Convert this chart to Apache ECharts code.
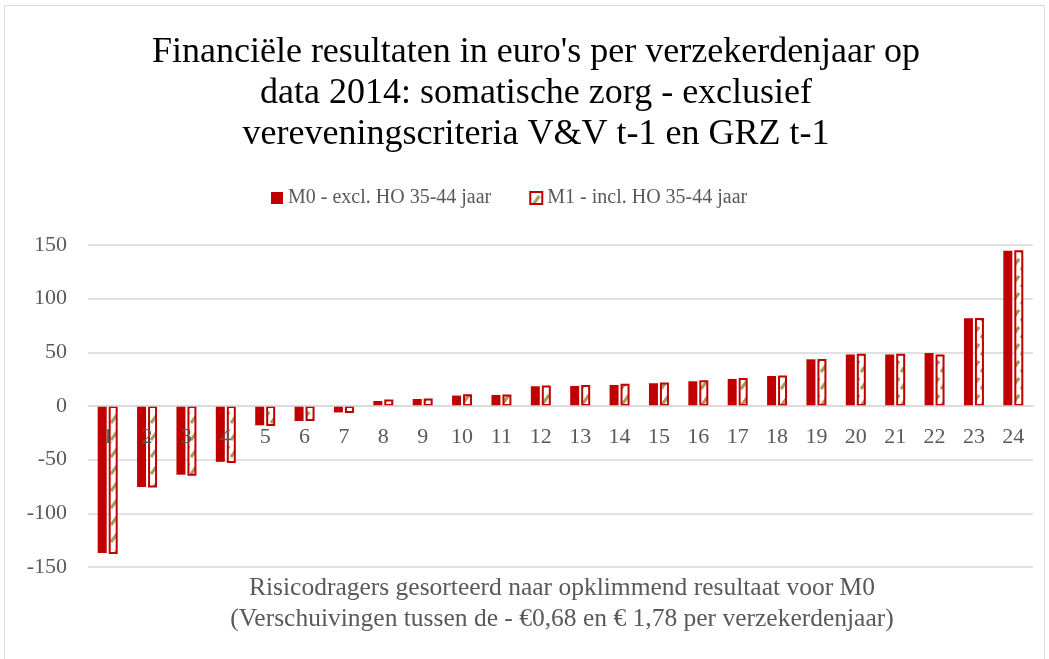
<!DOCTYPE html>
<html>
<head>
<meta charset="utf-8">
<script src="https://cdn.jsdelivr.net/npm/echarts@6/dist/echarts.min.js"></script>
<style>
  html, body { margin: 0; padding: 0; background: #fff; }
  #main { width: 1049px; height: 659px; }
</style>
</head>
<body>
<div id="main"></div>
<script>
// risicodragers 1..24, gesorteerd op resultaat M0
var categories = ['1', '2', '3', '4', '5', '6', '7', '8', '9', '10', '11', '12',
    '13', '14', '15', '16', '17', '18', '19', '20', '21', '22', '23', '24'];

var m0Values = [-137, -75.5, -64, -52, -18, -14, -6, 4.7, 6.5, 9.7, 10.3, 18.4,
    18.7, 19.6, 21.2, 23, 25.2, 28, 43.5, 48, 48, 49.4, 81.7, 144.7];

var m1Values = [-138, -76, -65, -53, -18.6, -14, -6.5, 6, 7, 11, 10.6, 19,
    19.6, 20.8, 21.8, 24, 26, 28.5, 43.8, 48.7, 48.7, 48, 82, 145];

var seriesNames = ['M0 - excl. HO 35-44 jaar', 'M1 - incl. HO 35-44 jaar'];

var yTicks = { min: -150, max: 150, step: 50 };

var serif = '"Liberation Serif", "DejaVu Serif", serif';

// streeppatroon voor M1 (wit met schuine kaki strepen)
function makeStripes() {
    var c = document.createElement('canvas');
    c.width = 10;
    c.height = 17;
    var ctx = c.getContext('2d');
    ctx.fillStyle = '#ffffff';
    ctx.fillRect(0, 0, 10, 17);
    ctx.strokeStyle = '#a89a5c';
    ctx.lineWidth = 3;
    ctx.beginPath();
    ctx.moveTo(1, 15);
    ctx.lineTo(9, 4);
    ctx.stroke();
    return c;
}

function initChart() {
    var myChart = echarts.init(document.getElementById('main'));

    var option = {
        backgroundColor: '#ffffff',
        animation: false,
        title: [{
            text: 'Financiële resultaten in euro\'s per verzekerdenjaar op\ndata 2014: somatische zorg - exclusief\nvereveningscriteria V&V t-1 en GRZ t-1',
            left: 531,
            top: 27,
            textAlign: 'center',
            textStyle: {
                fontFamily: serif,
                fontSize: 36,
                fontWeight: 'normal',
                color: '#000000',
                lineHeight: 41
            }
        }, {
            text: 'Risicodragers gesorteerd naar opklimmend resultaat voor M0\n(Verschuivingen tussen de - €0,68 en € 1,78 per verzekerdenjaar)',
            left: 557,
            top: 568,
            textAlign: 'center',
            textStyle: {
                fontFamily: serif,
                fontSize: 25.5,
                fontWeight: 'normal',
                color: '#595959',
                lineHeight: 31
            }
        }],
        legend: {
            data: seriesNames,
            left: 266,
            top: 183,
            icon: 'rect',
            itemWidth: 12,
            itemHeight: 12,
            itemGap: 38,
            textStyle: {
                fontFamily: serif,
                fontSize: 20,
                color: '#595959'
            }
        },
        grid: {
            left: 88,
            right: 16,
            top: 245,
            bottom: 92
        },
        xAxis: {
            type: 'category',
            data: categories,
            position: 'bottom',
            offset: -161,
            z: 5,
            axisLine: { show: true, onZero: false, lineStyle: { color: '#d9d9d9', width: 1.5 } },
            axisTick: { show: false },
            axisLabel: {
                margin: 20,
                fontFamily: serif,
                fontSize: 22,
                color: '#595959'
            }
        },
        yAxis: {
            type: 'value',
            min: yTicks.min,
            max: yTicks.max,
            interval: yTicks.step,
            axisLine: { show: false },
            axisTick: { show: false },
            axisLabel: {
                margin: 21,
                fontFamily: serif,
                fontSize: 22,
                color: '#595959'
            },
            splitLine: { lineStyle: { color: '#d9d9d9', width: 1.5 } }
        },
        series: [{
            name: seriesNames[0],
            type: 'bar',
            data: m0Values,
            barWidth: 9,
            barGap: '22%',
            itemStyle: { color: '#c00000' }
        }, {
            name: seriesNames[1],
            type: 'bar',
            data: m1Values,
            barWidth: 9,
            itemStyle: {
                color: { image: makeStripes(), repeat: 'repeat' },
                borderColor: '#c00000',
                borderWidth: 2
            }
        }],
        graphic: [{
            type: 'rect',
            shape: { x: 4.5, y: 5.5, width: 1040, height: 660 },
            style: { fill: 'none', stroke: '#d9d9d9', lineWidth: 1 },
            silent: true
        }]
    };

    myChart.setOption(option);
}

initChart();
</script>
</body>
</html>
